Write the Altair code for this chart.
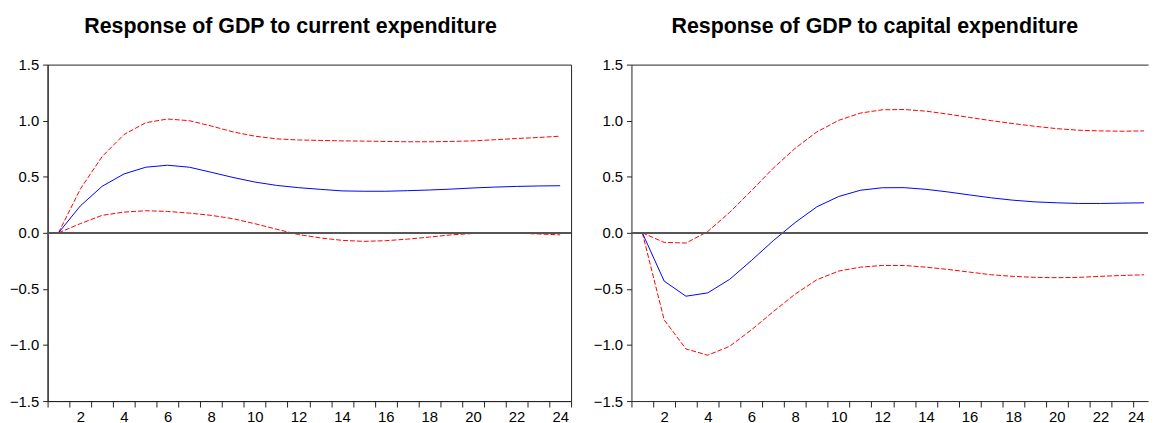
import altair as alt
import pandas as pd

periods = list(range(1, 25))

# Response of GDP to current expenditure
cur_resp = [0.0, 0.24, 0.415, 0.525, 0.585, 0.603, 0.585, 0.54, 0.494, 0.453, 0.423, 0.403,
            0.388, 0.374, 0.371, 0.371, 0.376, 0.382, 0.39, 0.40, 0.408, 0.414, 0.418, 0.42]
cur_upper = [0.0, 0.39, 0.68, 0.876, 0.982, 1.015, 1.0, 0.953, 0.90, 0.862, 0.838, 0.828,
             0.824, 0.82, 0.818, 0.815, 0.812, 0.812, 0.815, 0.82, 0.83, 0.841, 0.85, 0.862]
cur_lower = [0.0, 0.082, 0.156, 0.185, 0.197, 0.191, 0.176, 0.156, 0.126, 0.082, 0.032, -0.015,
             -0.045, -0.067, -0.076, -0.07, -0.056, -0.038, -0.018, -0.006, 0.0, -0.003, -0.01, -0.018]

# Response of GDP to capital expenditure
cap_resp = [0.0, -0.43, -0.565, -0.535, -0.415, -0.247, -0.07, 0.091, 0.232, 0.324, 0.38, 0.402,
            0.403, 0.388, 0.365, 0.338, 0.312, 0.291, 0.276, 0.268, 0.262, 0.262, 0.265, 0.268]
cap_upper = [0.0, -0.085, -0.091, 0.012, 0.182, 0.376, 0.576, 0.753, 0.90, 1.003, 1.068, 1.097,
             1.10, 1.085, 1.059, 1.029, 1.0, 0.974, 0.95, 0.929, 0.915, 0.909, 0.906, 0.909]
cap_lower = [0.0, -0.776, -1.035, -1.091, -1.012, -0.865, -0.703, -0.547, -0.418, -0.341, -0.306, -0.291,
             -0.291, -0.306, -0.326, -0.35, -0.374, -0.388, -0.397, -0.40, -0.397, -0.388, -0.38, -0.374]

y_ticks = [-1.5, -1.0, -0.5, 0.0, 0.5, 1.0, 1.5]
left_tick_positions = [i + 0.5 for i in range(0, 25)]   # band edges 0.5 .. 24.5
right_tick_positions = [i + 0.5 for i in range(0, 24)]  # band edges 0.5 .. 23.5

FONT = "Liberation Sans"
H = 340
W_LEFT = 529
W_RIGHT = 522
UNIT = W_LEFT / 24.0


def panel(title, resp, upper, lower, width, x_max, tick_values, open_right, title_dx):
    df = pd.DataFrame({"period": periods, "resp": resp, "upper": upper, "lower": lower})
    xs = alt.Scale(domain=[0.5, x_max], nice=False, zero=False)
    ys = alt.Scale(domain=[-1.5, 1.5], nice=False, zero=False)
    x_axis = alt.Axis(
        orient="bottom",
        values=tick_values, title=None, grid=False, tickSize=6,
        labelExpr="((datum.value + 0.5) % 2 == 0) ? format(datum.value + 0.5, 'd') : ''",
        labelOffset=11, labelOverlap=False, labelFlush=False, labelPadding=3,
        labelAlign=alt.condition("datum.value > 23", alt.value("right"), alt.value("center"))
        if open_right else "center",
    )
    y_axis = alt.Axis(orient="left", values=y_ticks, format=".1f", title=None, grid=False,
                      tickSize=5, labelPadding=4, labelOverlap=False, labelFlush=False)
    base = alt.Chart(df)
    other_x = alt.X("period:Q", scale=xs, axis=None) if open_right else \
        alt.X("period:Q", scale=xs, axis=x_axis)
    up = base.mark_line(color="#ff0000", strokeWidth=1, strokeDash=[5, 2]).encode(
        x=alt.X("period:Q", scale=xs, axis=x_axis), y=alt.Y("upper:Q", scale=ys, axis=y_axis))
    lo = base.mark_line(color="#ff0000", strokeWidth=1, strokeDash=[5, 2]).encode(
        x=other_x, y=alt.Y("lower:Q", scale=ys, axis=y_axis))
    mid = base.mark_line(color="#0000ff", strokeWidth=1).encode(
        x=other_x, y=alt.Y("resp:Q", scale=ys, axis=y_axis))
    zero = base.mark_rule(color="#555555", strokeWidth=1).encode(y=alt.datum(0, scale=ys))
    layers = [up, lo, mid, zero]
    title_params = alt.TitleParams(title, fontSize=21.6, fontWeight="bold", font=FONT,
                                   anchor="middle", offset=20, dx=title_dx, color="#000000")
    if open_right:
        top_axis = alt.Axis(orient="top", labels=False, ticks=False, domain=True,
                            title=None, grid=False)
        top = base.mark_line(opacity=0).encode(
            x=alt.X("period:Q", scale=xs, axis=top_axis), y=alt.Y("resp:Q", scale=ys, axis=y_axis))
        layers.append(top)
        return alt.layer(*layers).resolve_axis(x="independent").properties(
            width=width, height=H, title=title_params,
            view=alt.ViewBackground(strokeOpacity=0),
        )
    return alt.layer(*layers).properties(width=width, height=H, title=title_params)


left = panel("Response of GDP to current expenditure", cur_resp, cur_upper, cur_lower,
             W_LEFT, 24.5, left_tick_positions, False, -19)
right = panel("Response of GDP to capital expenditure", cap_resp, cap_upper, cap_lower,
              W_RIGHT, 0.5 + W_RIGHT / UNIT, right_tick_positions, True, -15)

chart = alt.hconcat(left, right, spacing=61, bounds="flush").properties(
    padding={"left": 0, "top": 5, "right": 0, "bottom": 0}, background="white"
).configure_view(stroke="#222222", strokeWidth=1).configure_axis(
    labelFont=FONT, labelFontSize=15, labelColor="#000000",
    domainColor="#222222", tickColor="#222222", domainWidth=1, tickWidth=1,
)

chart.save("out.html", embed_options={"renderer": "svg", "actions": False})
